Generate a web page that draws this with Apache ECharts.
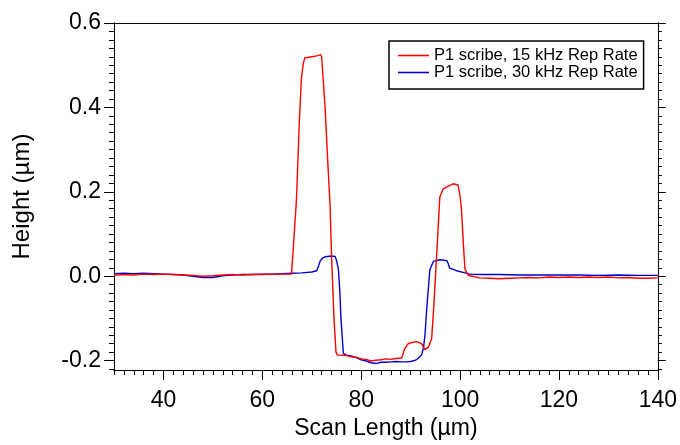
<!DOCTYPE html>
<html><head><meta charset="utf-8">
<script src="https://cdn.jsdelivr.net/npm/echarts@6/dist/echarts.min.js"></script>
<style>html,body{margin:0;padding:0;background:#fff}#c{width:680px;height:445px}</style>
</head><body><div id="c"></div>
<script>
// ---- data ----
const redName = 'P1 scribe, 15 kHz Rep Rate';
const blueName = 'P1 scribe, 30 kHz Rep Rate';
const redX = [30,32,34,36,38,40,42,44,46,48,50,52,54,56,58,60,62,64,65.9,66.4,66.9,67.5,67.9,68.3,68.6,70,71,71.8,72.0,72.3,72.7,73.2,73.7,74.0,74.5,74.9,75.2,76,77,78,79,80,81,82,83,84,85,86,87,88.2,88.8,89.5,90.2,91.2,92.2,92.9,93.6,94.25,94.7,95.1,95.5,95.9,96.6,97.5,98.6,99.6,100.0,100.3,100.7,101.0,101.7,102.5,104,106,108,110,112,114,116,118,120,122,124,126,128,130,132,134,136,138,140];
const redY = [0.002,0.004,0.003,0.005,0.004,0.005,0.004,0.003,0.002,0.000,0.001,0.003,0.004,0.003,0.004,0.004,0.005,0.005,0.005,0.09,0.18,0.37,0.468,0.505,0.517,0.520,0.522,0.525,0.52,0.468,0.40,0.28,0.17,0.05,-0.10,-0.18,-0.187,-0.187,-0.188,-0.191,-0.192,-0.196,-0.197,-0.201,-0.199,-0.198,-0.196,-0.197,-0.195,-0.194,-0.172,-0.160,-0.157,-0.155,-0.160,-0.174,-0.168,-0.148,-0.07,0.016,0.10,0.187,0.207,0.213,0.219,0.216,0.19,0.156,0.07,0.016,0.002,0.000,-0.004,-0.005,-0.006,-0.005,-0.004,-0.003,-0.004,-0.002,-0.003,-0.002,-0.003,-0.002,-0.003,-0.002,-0.004,-0.003,-0.005,-0.005,-0.004];
const blueX = [30,32,34,36,38,40,42,44,46,48,50,52,54,56,58,60,62,64,66,68,70,71.0,71.4,71.7,72.2,72.7,74.0,74.7,75.0,75.4,75.7,75.9,76.2,76.4,77,78,79,80,81,82,83,84,85,86,87,88,89,90,91,91.5,92.2,92.6,92.9,93.3,93.9,94.6,96.0,97.3,97.6,97.9,99.3,101,102,104,108,112,116,120,124,128,132,136,140];
const blueY = [0.006,0.007,0.006,0.007,0.006,0.005,0.004,0.003,0.000,-0.003,-0.003,0.001,0.003,0.004,0.004,0.005,0.005,0.006,0.007,0.008,0.010,0.013,0.025,0.036,0.043,0.046,0.048,0.047,0.038,0.016,-0.04,-0.10,-0.15,-0.183,-0.187,-0.189,-0.193,-0.198,-0.201,-0.205,-0.207,-0.204,-0.204,-0.203,-0.202,-0.203,-0.203,-0.202,-0.199,-0.195,-0.187,-0.17,-0.14,-0.07,0.016,0.035,0.039,0.037,0.03,0.019,0.013,0.008,0.005,0.004,0.004,0.003,0.003,0.003,0.003,0.002,0.003,0.002,0.002];
const xMajor = [40,60,80,100,120,140];
const xMinor = [30,32,34,36,38,40,42,44,46,48,50,52,54,56,58,60,62,64,66,68,70,72,74,76,78,80,82,84,86,88,90,92,94,96,98,100,102,104,106,108,110,112,114,116,118,120,122,124,126,128,130,132,134,136,138,140];
const yMajor = [-0.2,0,0.2,0.4,0.6];
const yMinor = [-0.22,-0.2,-0.18,-0.16,-0.14,-0.12,-0.1,-0.08,-0.06,-0.04,-0.02,0,0.02,0.04,0.06,0.08,0.1,0.12,0.14,0.16,0.18,0.2,0.22,0.24,0.26,0.28,0.3,0.32,0.34,0.36,0.38,0.4,0.42,0.44,0.46,0.48,0.5,0.52,0.54,0.56,0.58,0.6];
const xMin = 30, xMax = 140, yMin = -0.2225, yMax = 0.6;

const F = '"Liberation Sans", Arial, sans-serif';
const ax = {onZero:false, lineStyle:{color:'#000',width:1}};
function pairs(xs, ys){ return xs.map((x,i)=>[x, ys[i]]); }

const chart = echarts.init(document.getElementById('c'), null, {renderer:'canvas'});
chart.setOption({
  animation:false,
  backgroundColor:'#fff',
  grid:{left:114, right:22, top:23, bottom:70, containLabel:false},
  legend:{
    orient:'vertical', left:389, top:41,
    data:[{name:redName, icon:'rect'}, {name:blueName, icon:'rect'}],
    borderColor:'#000', borderWidth:1.5, borderRadius:0,
    padding:[6,6,8,9], itemGap:0, itemWidth:31, itemHeight:1.6,
    textStyle:{fontFamily:F, fontSize:16.5, color:'#000', lineHeight:17},
    backgroundColor:'#fff'
  },
  xAxis:[
    {type:'value', min:xMin, max:xMax, position:'bottom',
     name:'Scan Length (µm)', nameLocation:'middle', nameGap:41,
     nameTextStyle:{fontFamily:F, fontSize:23, color:'#000'},
     axisLine:ax, splitLine:{show:false},
     axisTick:{show:true, inside:false, length:10, customValues:xMajor, lineStyle:{color:'#000'}},
     axisLabel:{customValues:xMajor, margin:19, fontFamily:F, fontSize:23, color:'#000'}},
    {type:'value', min:xMin, max:xMax, position:'bottom',
     axisLine:ax, splitLine:{show:false},
     axisTick:{show:true, length:5, customValues:xMinor, lineStyle:{color:'#000'}},
     axisLabel:{show:false}},
    {type:'value', min:xMin, max:xMax, position:'top',
     axisLine:ax, splitLine:{show:false}, axisTick:{show:false}, axisLabel:{show:false}}
  ],
  yAxis:[
    {type:'value', min:yMin, max:yMax, position:'left',
     name:'Height (µm)', nameLocation:'middle', nameGap:80,
     nameTextStyle:{fontFamily:F, fontSize:24, color:'#000'},
     axisLine:ax, splitLine:{show:false},
     axisTick:{show:true, length:10, customValues:yMajor, lineStyle:{color:'#000'}},
     axisLabel:{customValues:yMajor, margin:13, fontFamily:F, fontSize:23, color:'#000',
       formatter:v=>v.toFixed(1)}},
    {type:'value', min:yMin, max:yMax, position:'left',
     axisLine:ax, splitLine:{show:false},
     axisTick:{show:true, length:5, customValues:yMinor, lineStyle:{color:'#000'}},
     axisLabel:{show:false}},
    {type:'value', min:yMin, max:yMax, position:'right',
     axisLine:ax, splitLine:{show:false},
     axisTick:{show:true, length:8, customValues:yMajor, lineStyle:{color:'#000'}},
     axisLabel:{show:false}},
    {type:'value', min:yMin, max:yMax, position:'right',
     axisLine:ax, splitLine:{show:false},
     axisTick:{show:true, length:4, customValues:yMinor, lineStyle:{color:'#000'}},
     axisLabel:{show:false}}
  ],
  series:[
    {name:redName, type:'line', xAxisIndex:0, yAxisIndex:0, data:pairs(redX, redY),
     symbol:'none', showSymbol:false, lineStyle:{color:'#ff0000', width:1.4}, itemStyle:{color:'#ff0000'}, z:3},
    {name:blueName, type:'line', xAxisIndex:0, yAxisIndex:0, data:pairs(blueX, blueY),
     symbol:'none', showSymbol:false, lineStyle:{color:'#0000cc', width:1.4}, itemStyle:{color:'#0000cc'}, z:2}
  ]
});
</script></body></html>
